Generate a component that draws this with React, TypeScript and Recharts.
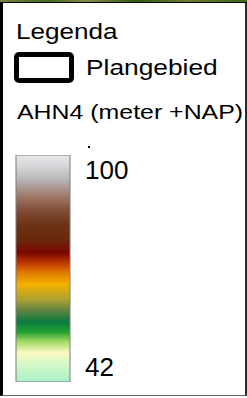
import React from 'react'
import { BarChart, Bar, XAxis, YAxis } from 'recharts'

// colour ramp of the AHN4 height legend, top (high) to bottom (low)
const STOP_OFFSETS = [0, 0.04, 0.11, 0.18, 0.24, 0.31, 0.37, 0.43, 0.48, 0.52, 0.57, 0.64, 0.68, 0.735, 0.78, 0.82, 0.87, 0.92, 1]
const STOP_COLORS = [
  '#e8e6ea', '#dcdadd', '#b6b6b6', '#a07a6a', '#83503a', '#6c3214', '#6a2a0c', '#7a0800', '#c43c00',
  '#e07c00', '#f4b200', '#a8a032', '#688440', '#0a7a3e', '#24a032', '#9ed660', '#fafac0', '#d6f8c8', '#a8f0c6'
]

const TICKS = [42, 100]
const SCALE_MIN = 37.6
const SCALE_MAX = 104.4

const rampData = [{ name: 'AHN4', range: [SCALE_MIN, SCALE_MAX] }]

const font = '"Liberation Sans", Arial, sans-serif'

function App() {
  return (
    <div style={{ position: 'absolute', left: 0, top: 0, width: 247, height: 398, background: '#fff', overflow: 'hidden' }}>
      <div style={{
        position: 'absolute', left: 0, top: 0, width: 247, height: 2,
        background: 'linear-gradient(90deg, #7d7f45 0%, #3f6a1c 20%, #8a8a4a 35%, #2c5a12 55%, #6f7a30 75%, #3a6818 100%)'
      }} />
      <div style={{
        position: 'absolute', left: 0, top: 2, width: 247, height: 394, boxSizing: 'border-box',
        borderTop: '1px solid #000', borderLeft: '3px solid #000', borderRight: '2px solid #2a2a2a',
        borderBottom: '1px solid #666'
      }} />

      <span style={{
        position: 'absolute', left: 16, top: 20.5, fontFamily: font, fontSize: 22.5, lineHeight: '22.5px',
        transform: 'scaleX(1.16)', transformOrigin: 'left top', whiteSpace: 'nowrap', color: '#000'
      }}>Legenda</span>

      <div style={{
        position: 'absolute', left: 14, top: 52, width: 60, height: 31, boxSizing: 'border-box',
        border: '5px solid #000', borderRadius: 5
      }} />
      <span style={{
        position: 'absolute', left: 85.5, top: 57, fontFamily: font, fontSize: 22.5, lineHeight: '22.5px',
        transform: 'scaleX(1.17)', transformOrigin: 'left top', whiteSpace: 'nowrap', color: '#000'
      }}>Plangebied</span>

      <span style={{
        position: 'absolute', left: 17, top: 100.5, fontFamily: font, fontSize: 21, lineHeight: '21px',
        transform: 'scaleX(1.185)', transformOrigin: 'left top', whiteSpace: 'nowrap', color: '#000'
      }}>AHN4 (meter +NAP)</span>

      <div style={{ position: 'absolute', left: 88, top: 146, width: 2, height: 2, background: '#000' }} />

      <div style={{ position: 'absolute', left: 0, top: 0 }}>
        <BarChart
          width={247}
          height={398}
          data={rampData}
          margin={{ top: 155, right: 0, bottom: 16, left: 16 }}
          barCategoryGap={0}
        >
          <defs>
            <linearGradient id="ahn4" x1="0" y1="0" x2="0" y2="1">
              {STOP_OFFSETS.map((o, i) => (
                <stop key={i} offset={o} stopColor={STOP_COLORS[i]} />
              ))}
            </linearGradient>
          </defs>
          <XAxis dataKey="name" hide />
          <YAxis
            orientation="right"
            width={177}
            domain={[SCALE_MIN, SCALE_MAX]}
            allowDataOverflow
            ticks={TICKS}
            axisLine={false}
            tickLine={false}
            tickSize={0}
            tickMargin={15}
            tick={{ fontSize: 26, fill: '#000', fontFamily: font }}
          />
          <Bar dataKey="range" fill="url(#ahn4)" stroke="#7c7c7c" strokeWidth={1} isAnimationActive={false} />
        </BarChart>
      </div>
    </div>
  )
}

export default App
